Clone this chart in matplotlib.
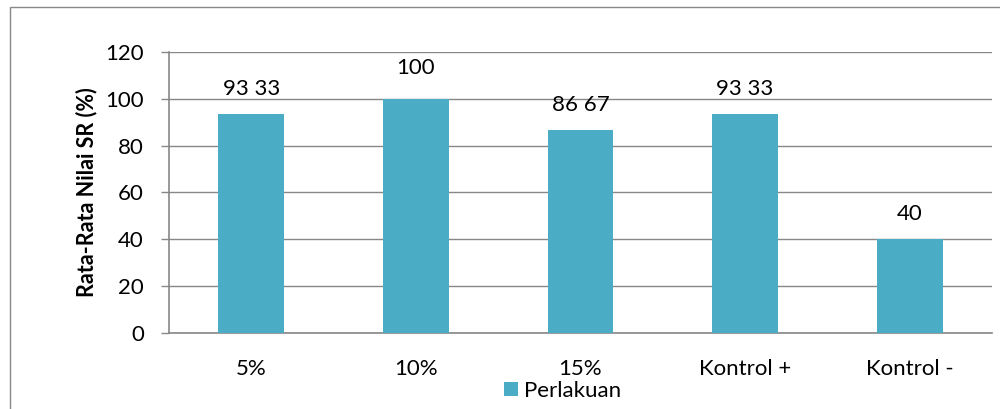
import matplotlib.pyplot as plt
from matplotlib.patches import Rectangle

plt.rcParams['font.family'] = ['Lato', 'DejaVu Sans']

kategori = ['5%', '10%', '15%', 'Kontrol +', 'Kontrol -']
nilai_sr = [93.33, 100, 86.67, 93.33, 40]
label_bar = ['93 33', '100', '86 67', '93 33', '40']
y_ticks = [0, 20, 40, 60, 80, 100, 120]

warna = '#4BACC6'
abu = '#878787'

fig = plt.figure(figsize=(10, 4.09), dpi=100)
ax = fig.add_axes([0.169, 0.186, 0.823, 0.687])

x = range(len(kategori))
bars = ax.bar(x, nilai_sr, width=0.4, color=warna, zorder=3, label='Perlakuan')
for xi, v, t in zip(x, nilai_sr, label_bar):
    ax.annotate(t, (xi, v), xytext=(0, 11 if v < 100 else 15), textcoords='offset points',
                ha='center', va='bottom', fontsize=16, color='black')

ax.set_xlim(-0.5, len(kategori) - 0.5)
ax.set_ylim(0, 120)
ax.set_yticks(y_ticks)
ax.set_xticks(list(x))
ax.set_xticklabels(kategori, fontsize=16)
ax.tick_params(axis='y', labelsize=16, length=6, color=abu, width=1, pad=12)
ax.tick_params(axis='x', length=0, pad=19)
ax.yaxis.grid(True, color=abu, linewidth=1, zorder=0)
for s in ['top', 'right']:
    ax.spines[s].set_visible(False)
ax.spines['left'].set_color(abu)
ax.spines['bottom'].set_color(abu)
ax.spines['left'].set_linewidth(1.2)
ax.spines['bottom'].set_linewidth(1.2)
ax.set_ylabel('Rata-Rata Nilai SR (%)', fontsize=15.5, fontweight='bold', labelpad=6)

fig.legend(handles=[bars], labels=['Perlakuan'], loc='center', bbox_to_anchor=(0.563, 0.045),
           frameon=False, fontsize=16, handlelength=0.6, handleheight=0.6, handletextpad=0.3,
           borderpad=0)

fig.patches.append(Rectangle((0.010, -0.1), 1.2, 1.083, transform=fig.transFigure,
                             fill=False, edgecolor=abu, linewidth=1))

fig.savefig('out.png', dpi=100)
